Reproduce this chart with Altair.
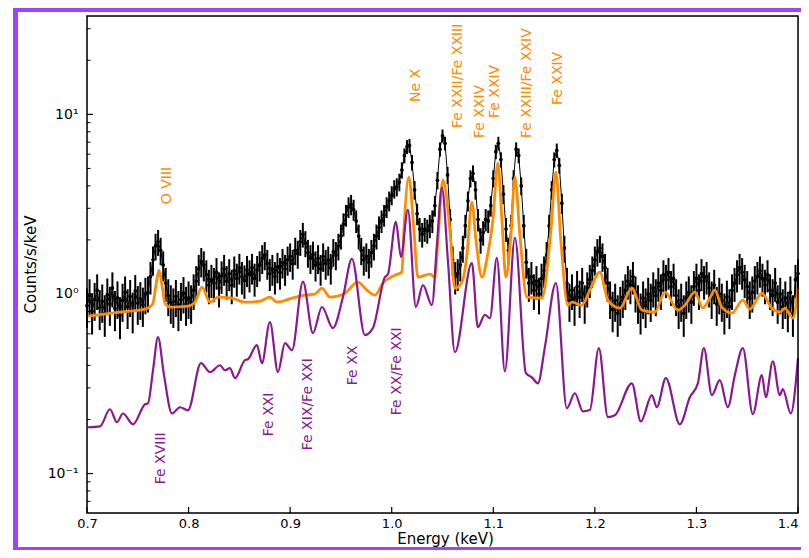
import altair as alt
import pandas as pd
import numpy as np

# ---------------- data ----------------
E_START, E_STEP = 0.700, 0.0025   # bin centres of the observed spectrum (keV)

data_counts = [
    # 0.700 - 0.7575
    0.86, 0.98, 0.80, 0.93, 1.05, 0.84, 0.91, 0.78, 0.99, 0.88, 1.08, 0.83,
    0.95, 0.76, 0.92, 1.02, 0.85, 0.97, 0.81, 1.04, 0.89, 0.94, 0.87, 1.00,
    # 0.760 - 0.7825 (O VIII)
    1.02, 1.25, 1.55, 1.85, 1.95, 1.75, 1.45, 1.15, 0.98, 0.90,
    # 0.785 - 0.805
    0.86, 0.97, 0.83, 0.93, 1.01, 0.88, 0.95, 0.90, 1.05,
    # 0.8075 - 0.8225
    1.18, 1.38, 1.52, 1.45, 1.28, 1.12, 1.20,
    # 0.825 - 0.8575
    1.15, 1.32, 1.08, 1.26, 1.38, 1.18, 1.30, 1.12, 1.35, 1.22, 1.40, 1.25, 1.19, 1.36,
    # 0.860 - 0.8975
    1.28, 1.40, 1.22, 1.36, 1.45, 1.58, 1.65, 1.48, 1.30, 1.38, 1.25, 1.42, 1.32, 1.50, 1.38, 1.55,
    # 0.900 - 0.9225
    1.62, 1.48, 1.75, 1.68, 1.95, 2.15, 1.92, 1.70, 1.58, 1.66,
    # 0.925 - 0.9475
    1.45, 1.58, 1.38, 1.62, 1.48, 1.55, 1.40, 1.72, 1.65, 1.85,
    # 0.950 - 0.9675
    2.10, 2.45, 2.75, 3.05, 3.15, 2.95, 2.55, 2.10,
    # 0.970 - 0.9825
    1.75, 1.55, 1.62, 1.50, 1.70, 1.85,
    # 0.985 - 1.0225 (Ne X)
    2.10, 2.35, 2.55, 2.75, 3.05, 3.30, 3.55, 3.85, 3.95, 4.20, 4.90, 5.90, 6.60, 6.70, 5.40, 3.80,
    # 1.025 - 1.0425
    2.80, 2.30, 2.15, 2.30, 2.25, 2.40, 2.55, 3.10,
    # 1.045 - 1.0575
    4.30, 6.40, 7.60, 6.90, 4.60, 2.60,
    # 1.060 - 1.0725
    1.55, 1.25, 1.30, 1.45, 1.80, 2.40,
    # 1.075 - 1.0875
    3.30, 4.40, 4.70, 3.80, 2.60, 2.00,
    # 1.090 - 1.1175
    2.20, 2.60, 2.55, 3.10, 4.40, 6.20, 6.90, 5.60, 3.60, 2.30, 1.75, 2.40,
    # 1.120 - 1.1325
    4.40, 6.40, 5.90, 4.00, 2.40, 1.50,
    # 1.135 - 1.1525
    1.15, 1.25, 1.05, 1.18, 1.00, 1.22, 1.35, 1.65,
    # 1.155 - 1.1725
    2.40, 3.80, 5.60, 6.30, 5.20, 3.20, 1.80, 1.15,
    # 1.175 - 1.400
    0.92, 1.05, 0.88, 1.10, 0.96, 1.15, 0.90, 1.08, 1.20, 1.35,
    1.55, 1.72, 1.80, 1.62, 1.40, 1.15, 0.95, 0.82, 0.92, 0.78,
    0.88, 0.96, 1.05, 1.18, 1.12, 1.25, 1.02, 0.90, 0.80, 0.95,
    0.86, 1.00, 0.92, 1.08, 0.98, 1.15, 1.05, 1.28, 1.20, 1.32,
    1.10, 1.22, 0.98, 0.85, 0.92, 0.78, 0.95, 1.02, 0.90, 1.10,
    1.22, 1.05, 1.30, 1.18, 1.25, 1.08, 0.95, 1.12, 0.88, 1.00,
    0.92, 0.80, 0.96, 0.85, 1.05, 1.15, 1.28, 1.40, 1.32, 1.20,
    1.10, 0.95, 1.02, 1.18, 1.25, 1.35, 1.22, 1.12, 1.28, 1.05,
    0.98, 1.15, 0.90, 1.00, 0.85, 0.95, 0.82, 1.02, 0.78, 1.20,
    1.30,
]

orange_E = [0.7010, 0.7300, 0.7571, 0.7630, 0.7650, 0.7679, 0.7709, 0.7738, 0.7768, 0.7817,
            0.7994, 0.8063, 0.8132, 0.8211, 0.8289, 0.8427, 0.8555, 0.8703, 0.8801, 0.8870,
            0.9018, 0.9146, 0.9244, 0.9313, 0.9392, 0.9539, 0.9667, 0.9756, 0.9835, 0.9913,
            1.0031, 1.0100, 1.0120, 1.0169, 1.0218, 1.0258, 1.0376, 1.0425, 1.0455, 1.0504,
            1.0573, 1.0622, 1.0691, 1.0740, 1.0789, 1.0829, 1.0888, 1.0947, 1.0996, 1.1045,
            1.1085, 1.1124, 1.1173, 1.1213, 1.1262, 1.1331, 1.1478, 1.1567, 1.1616, 1.1665,
            1.1734, 1.1774, 1.1872, 1.1951, 1.2049, 1.2128, 1.2246, 1.2364, 1.2463, 1.2591,
            1.2690, 1.2818, 1.2886, 1.2984, 1.3063, 1.3132, 1.3181, 1.3250, 1.3348, 1.3457,
            1.3526, 1.3644, 1.3742, 1.3821, 1.3870, 1.3949, 1.4000]
orange_v = [0.752, 0.790, 0.823, 0.860, 0.889, 1.120, 1.357, 1.120, 0.889, 0.844,
            0.855, 0.900, 1.091, 0.900, 0.960, 0.948, 0.900, 0.912, 0.960, 0.900,
            0.948, 0.985, 0.997, 1.077, 0.960, 1.010, 1.163, 1.050, 0.985, 1.149,
            1.273, 1.322, 2.270, 4.470, 2.270, 1.240, 1.289, 1.240, 1.990, 4.310,
            2.260, 1.077, 1.163, 1.640, 3.250, 2.000, 1.240, 1.688, 2.580, 5.350,
            2.580, 1.240, 2.120, 4.470, 2.120, 0.960, 0.948, 2.270, 4.770, 1.990,
            0.866, 0.900, 0.866, 1.050, 1.322, 0.924, 0.834, 1.077, 0.812, 0.792,
            1.023, 0.812, 0.866, 1.023, 0.834, 0.948, 1.050, 0.844, 0.782, 0.924,
            0.823, 1.010, 0.834, 0.792, 0.834, 0.733, 1.077]

purple_E = [0.7010, 0.7128, 0.7226, 0.7295, 0.7354, 0.7453, 0.7571, 0.7600, 0.7650, 0.7699,
            0.7758, 0.7837, 0.7915, 0.7994, 0.8122, 0.8211, 0.8309, 0.8358, 0.8407, 0.8457,
            0.8555, 0.8585, 0.8673, 0.8722, 0.8801, 0.8880, 0.8949, 0.9018, 0.9126, 0.9224,
            0.9313, 0.9421, 0.9520, 0.9608, 0.9736, 0.9815, 0.9933, 0.9963, 1.0041, 1.0091,
            1.0159, 1.0238, 1.0307, 1.0396, 1.0445, 1.0494, 1.0553, 1.0622, 1.0789, 1.0848,
            1.0917, 1.0967, 1.1035, 1.1114, 1.1213, 1.1321, 1.1380, 1.1439, 1.1508, 1.1616,
            1.1724, 1.1803, 1.1882, 1.1951, 1.2039, 1.2128, 1.2197, 1.2364, 1.2453, 1.2561,
            1.2610, 1.2699, 1.2837, 1.2935, 1.3014, 1.3073, 1.3152, 1.3230, 1.3309, 1.3378,
            1.3457, 1.3555, 1.3644, 1.3683, 1.3752, 1.3821, 1.3850, 1.3929, 1.4000]
purple_v = [0.181, 0.183, 0.228, 0.193, 0.216, 0.188, 0.243, 0.246, 0.377, 0.575,
            0.353, 0.216, 0.234, 0.225, 0.412, 0.367, 0.401, 0.376, 0.386, 0.340,
            0.428, 0.433, 0.519, 0.412, 0.698, 0.367, 0.532, 0.486, 1.170, 0.605,
            0.846, 0.646, 0.962, 1.570, 0.590, 0.646, 1.240, 1.290, 2.520, 1.610,
            2.940, 0.846, 1.120, 0.868, 1.870, 3.910, 1.540, 0.474, 1.490, 0.654,
            0.764, 0.734, 1.590, 0.371, 2.050, 0.362, 0.343, 0.318, 0.506, 1.150,
            0.231, 0.280, 0.222, 0.226, 0.499, 0.206, 0.211, 0.318, 0.195, 0.273,
            0.234, 0.340, 0.188, 0.266, 0.318, 0.499, 0.273, 0.331, 0.234, 0.353,
            0.499, 0.214, 0.353, 0.266, 0.422, 0.273, 0.295, 0.216, 0.439]

orange_labels = ["O VIII", "Ne X", "Fe XXII/Fe XXIII", "Fe XXIV", "Fe XXIV",
                 "Fe XXIII/Fe XXIV", "Fe XXIV"]
orange_label_E = [0.7787, 1.0238, 1.0657, 1.0868, 1.1016, 1.1331, 1.1636]
orange_label_v = [3.16, 11.71, 8.39, 7.38, 9.54, 7.38, 11.27]

purple_labels = ["Fe XVIII", "Fe XXI", "Fe XIX/Fe XXI", "Fe XX", "Fe XX/Fe XXI"]
purple_label_E = [0.7728, 0.8791, 0.9175, 0.9618, 1.0051]
purple_label_v = [0.0872, 0.1614, 0.1348, 0.3105, 0.2113]

x_ticks = [0.7, 0.8, 0.9, 1.0, 1.1, 1.2, 1.3, 1.4]
y_major = [0.1, 1.0, 10.0]
y_minor = [0.07, 0.08, 0.09, 0.2, 0.3, 0.4, 0.5, 0.6, 0.7, 0.8, 0.9,
           2, 3, 4, 5, 6, 7, 8, 9, 20, 30]

# ---------------- tables ----------------
n = len(data_counts)
df_data = pd.DataFrame({
    "E": np.round(E_START + E_STEP * np.arange(n), 4),
    "v": data_counts,
})
df_data["lo"] = df_data["v"] - 0.23 * np.sqrt(df_data["v"])
df_data["hi"] = df_data["v"] + 0.23 * np.sqrt(df_data["v"])

df_or = pd.DataFrame({"E": orange_E, "v": orange_v})
df_pu = pd.DataFrame({"E": purple_E, "v": purple_v})
df_lo = pd.DataFrame({"E": orange_label_E, "v": orange_label_v, "t": orange_labels})
df_lp = pd.DataFrame({"E": purple_label_E, "v": purple_label_v, "t": purple_labels})
df_xt = pd.DataFrame({"E": x_ticks})
df_ymaj = pd.DataFrame({"v": y_major})
df_ymin = pd.DataFrame({"v": y_minor})
df_one = pd.DataFrame({"k": [0]})

W, H = 711, 497
ORANGE = "#ff8c00"
PURPLE = "#88198f"
BORDER = "#9b45ff"

xs = alt.Scale(domain=[0.7, 1.4], nice=False, zero=False)
ys = alt.Scale(type="log", domain=[0.0603, 35.3], nice=False)

x_axis = alt.Axis(values=x_ticks, format=".1f", ticks=False, domain=False, grid=False,
                  labelFontSize=13, labelPadding=4, labelFlush=False, labelOverlap=False,
                  labelAlign={"condition": {"test": "datum.value >= 1.39", "value": "right"},
                              "value": "center"},
                  labelColor="black", titleFontSize=15, titleFontWeight="normal",
                  titleColor="black", titleX=358, titleY=25, titleBaseline="middle")
y_axis = alt.Axis(values=y_major, ticks=False, domain=False, grid=False,
                  labelExpr="datum.value > 5 ? '10¹' : (datum.value > 0.5 ? '10⁰' : '10⁻¹')",
                  labelFontSize=14, labelPadding=9, labelColor="black",
                  titleFontSize=15, titleFontWeight="normal", titleColor="black",
                  titleX=-57, titleY=248, titleAngle=270, titleAlign="center",
                  titleBaseline="middle")


def X(field="E"):
    return alt.X(f"{field}:Q", scale=xs, axis=x_axis, title="Energy (keV)")


def Y(field="v"):
    return alt.Y(f"{field}:Q", scale=ys, axis=y_axis, title="Counts/s/keV")


# decorative purple frame around the figure
frame_left = alt.Chart(df_one).mark_rect(color=BORDER).encode(
    x=alt.value(-74), x2=alt.value(-69), y=alt.value(-8), y2=alt.value(534))
frame_top = alt.Chart(df_one).mark_rect(color=BORDER).encode(
    x=alt.value(-74), x2=alt.value(720), y=alt.value(-8), y2=alt.value(-4))
frame_bot = alt.Chart(df_one).mark_rect(color=BORDER).encode(
    x=alt.value(-74), x2=alt.value(720), y=alt.value(531), y2=alt.value(534))

# plot frame (all four spines)
spines = alt.Chart(df_one).mark_rect(fillOpacity=0, stroke="black", strokeWidth=1.5).encode(
    x=alt.value(0), x2=alt.value(W), y=alt.value(0), y2=alt.value(H))

bars = alt.Chart(df_data).mark_rule(color="black", strokeWidth=2.0).encode(
    x=X(), y=Y("lo"), y2="hi:Q")
dline = alt.Chart(df_data).mark_line(color="black", strokeWidth=1.0).encode(x=X(), y=Y())
pts = alt.Chart(df_data).mark_circle(color="black", size=14, opacity=1).encode(x=X(), y=Y())

oline = alt.Chart(df_or).mark_line(color=ORANGE, strokeWidth=2.8, interpolate="monotone").encode(
    x=X(), y=Y())
pline = alt.Chart(df_pu).mark_line(color=PURPLE, strokeWidth=2.2, interpolate="monotone").encode(
    x=X(), y=Y())

otext = alt.Chart(df_lo).mark_text(color=ORANGE, angle=270, align="left", baseline="middle",
                                   fontSize=14, font="DejaVu Sans").encode(
    x=X(), y=Y(), text="t:N")
ptext = alt.Chart(df_lp).mark_text(color=PURPLE, angle=270, align="left", baseline="middle",
                                   fontSize=14, font="DejaVu Sans").encode(
    x=X(), y=Y(), text="t:N")

xt = alt.Chart(df_xt).mark_rule(color="black", strokeWidth=1.2).encode(
    x=X(), y=alt.value(H), y2=alt.value(H - 6))
ytmaj = alt.Chart(df_ymaj).mark_rule(color="black", strokeWidth=1.2).encode(
    y=Y(), x=alt.value(0), x2=alt.value(6))
ytmin = alt.Chart(df_ymin).mark_rule(color="black", strokeWidth=1.0).encode(
    y=Y(), x=alt.value(0), x2=alt.value(3.5))

chart = alt.layer(
    frame_left, frame_top, frame_bot,
    bars, dline, pts, oline, pline, otext, ptext, xt, ytmaj, ytmin, spines
).properties(
    width=W, height=H,
    autosize=alt.AutoSizeParams(type="none"),
    padding={"left": 79, "top": 8, "right": 3, "bottom": 37},
    background="white",
).configure_view(
    stroke="black", strokeWidth=1.4
).configure(
    font="DejaVu Sans"
)

chart.save("out.html", embed_options={"renderer": "svg", "actions": False})
